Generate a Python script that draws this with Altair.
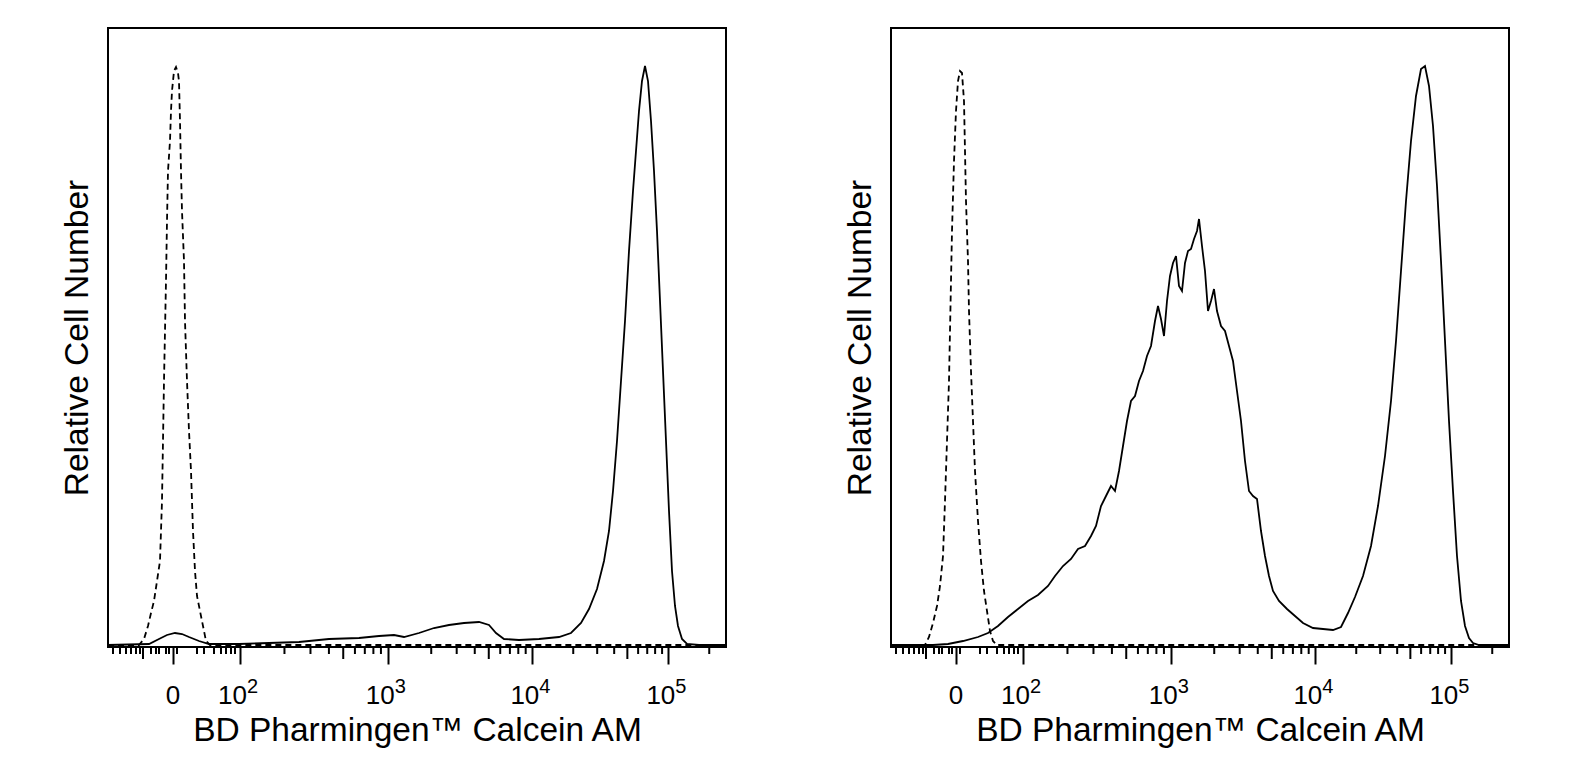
import math
import altair as alt
import pandas as pd

# x values are display channels of the biexponential axis (0..618 across the plot)
# y values are relative cell numbers (0..619 = full plot height)

left_dashed_x = [0, 31, 36, 40, 43, 46, 49, 52, 54, 55, 56, 57, 58, 59, 60, 62, 63, 64, 66, 68, 70, 71, 72, 73, 74, 76, 77, 79, 81, 83, 85, 87, 89, 92, 95, 98, 102, 618]
left_dashed_y = [2, 2, 8, 21, 34, 46, 66, 86, 146, 206, 266, 316, 366, 426, 476, 506, 536, 556, 576, 580, 574, 566, 526, 476, 436, 386, 326, 266, 216, 176, 116, 76, 51, 36, 21, 6, 2, 2]

left_solid_x = [0, 41, 51, 59, 67, 74, 81, 91, 101, 131, 161, 191, 221, 251, 271, 286, 296, 311, 326, 341, 356, 371, 381, 388, 396, 411, 431, 451, 463, 473, 481, 489, 496, 501, 505, 509, 513, 517, 521, 525, 528, 531, 534, 537, 540, 543, 546, 549, 552, 555, 558, 561, 564, 567, 570, 574, 579, 591, 618]
left_solid_y = [2, 3, 8, 12, 14, 13, 10, 6, 3, 3, 4, 5, 8, 9, 11, 12, 10, 14, 19, 22, 24, 25, 22, 14, 8, 7, 8, 10, 14, 24, 38, 58, 86, 116, 156, 206, 266, 326, 396, 456, 496, 536, 566, 581, 566, 526, 476, 416, 346, 276, 206, 136, 76, 41, 21, 8, 3, 2, 2]

right_dashed_x = [0, 34, 38, 42, 46, 49, 52, 54, 56, 58, 59, 60, 61, 63, 65, 67, 69, 71, 73, 74, 75, 77, 78, 80, 82, 84, 87, 90, 93, 96, 99, 102, 106, 617]
right_dashed_y = [2, 2, 10, 24, 41, 61, 91, 146, 206, 266, 316, 366, 416, 486, 536, 566, 576, 574, 546, 496, 446, 386, 336, 276, 226, 176, 126, 86, 56, 36, 16, 6, 2, 2]

right_solid_x = [0, 42, 57, 72, 87, 97, 107, 117, 127, 137, 147, 157, 164, 172, 180, 187, 194, 200, 205, 210, 215, 220, 224, 228, 232, 236, 240, 244, 248, 252, 256, 260, 264, 267, 270, 273, 276, 279, 282, 285, 288, 291, 294, 297, 300, 303, 306, 308, 311, 314, 317, 320, 323, 326, 330, 334, 338, 342, 346, 350, 354, 358, 362, 366, 370, 374, 378, 382, 388, 396, 404, 412, 422, 432, 442, 450, 457, 464, 472, 480, 487, 494, 500, 505, 510, 515, 520, 525, 530, 534, 538, 542, 546, 550, 554, 558, 562, 566, 570, 574, 578, 582, 588, 617]
right_solid_y = [2, 2, 3, 6, 10, 14, 21, 30, 38, 46, 52, 61, 71, 81, 88, 98, 101, 111, 121, 141, 151, 161, 156, 176, 201, 226, 246, 251, 266, 276, 291, 301, 326, 341, 328, 311, 346, 371, 384, 391, 361, 356, 384, 396, 398, 408, 416, 428, 401, 376, 336, 346, 358, 336, 321, 316, 301, 286, 256, 226, 186, 156, 151, 148, 116, 91, 71, 56, 46, 38, 31, 24, 19, 18, 17, 20, 34, 50, 71, 101, 141, 191, 246, 306, 376, 446, 506, 551, 578, 581, 561, 521, 461, 386, 306, 226, 156, 91, 46, 21, 9, 4, 2, 2]

# axis: display channel of each labelled value, label = base + superscript exponent
major_channels = [65, 132, 279.7, 424.3, 560.3]
major_base = ["0", "10", "10", "10", "10"]
major_exp = ["", "2", "3", "4", "5"]
# channels of the unlabelled ticks near zero (linear/negative part of the axis)
near_zero_ticks = [5, 12, 18, 23, 28, 32, 43, 48, 51, 58, 61, 69, 89, 96, 106, 113, 118, 123, 127]
near_zero_medium = [35]

W, H = 618, 619
FONT = "Liberation Sans"
TITLE_SIZE = 33.5

# minor/medium ticks of the log decades (2..9 x 10^k)
tick_rows = []
decade_starts = major_channels[1:]
decade_widths = [major_channels[2] - major_channels[1],
                 major_channels[3] - major_channels[2],
                 major_channels[4] - major_channels[3],
                 major_channels[4] - major_channels[3]]
for k, (start, width) in enumerate(zip(decade_starts, decade_widths)):
    for m in range(2, 10):
        if k == 3 and m > 2:
            break
        tick_rows.append({"x": start + math.log10(m) * width, "len": 12 if m == 5 else 7})
for t in near_zero_ticks:
    tick_rows.append({"x": t, "len": 7})
for t in near_zero_medium:
    tick_rows.append({"x": t, "len": 12})
ticks_df = pd.DataFrame(tick_rows)

labels_df = pd.DataFrame({"x": major_channels, "base": major_base, "exp": major_exp})

x_axis = alt.Axis(
    values=major_channels,
    labels=False,
    title="BD Pharmingen™ Calcein AM",
    titleFontSize=TITLE_SIZE,
    titleFont=FONT,
    titleFontWeight="normal",
    titleColor="black",
    titlePadding=49,
    tickSize=17,
    tickWidth=2,
    tickColor="black",
    domain=False,
    grid=False,
)
y_axis = alt.Axis(
    title="Relative Cell Number",
    titleFontSize=TITLE_SIZE,
    titleFont=FONT,
    titleFontWeight="normal",
    titleColor="black",
    titlePadding=14,
    labels=False,
    ticks=False,
    domain=False,
    grid=False,
)
xs = alt.Scale(domain=[0, W], nice=False, zero=False)
ys = alt.Scale(domain=[0, H], nice=False, zero=True)


def build(sx, sy, dx, dy):
    solid = pd.DataFrame({"x": sx, "y": sy})
    dashed = pd.DataFrame({"x": dx, "y": dy})
    xenc = alt.X("x:Q", scale=xs, axis=x_axis)
    l_dash = alt.Chart(dashed).mark_line(color="black", strokeWidth=1.8, strokeDash=[6, 4]).encode(
        x=xenc,
        y=alt.Y("y:Q", scale=ys, axis=y_axis),
    )
    l_solid = alt.Chart(solid).mark_line(color="black", strokeWidth=1.8).encode(
        x=xenc,
        y=alt.Y("y:Q", scale=ys, axis=y_axis),
    )
    short = alt.Chart(ticks_df[ticks_df["len"] == 7]).mark_rule(color="black", strokeWidth=2).encode(
        x=xenc,
        y=alt.value(H),
        y2=alt.value(H + 7),
    )
    medium = alt.Chart(ticks_df[ticks_df["len"] == 12]).mark_rule(color="black", strokeWidth=2).encode(
        x=xenc,
        y=alt.value(H),
        y2=alt.value(H + 12),
    )
    zero_lbl = alt.Chart(labels_df[labels_df["exp"] == ""]).mark_text(
        font=FONT, fontSize=26, color="black", align="center", baseline="alphabetic"
    ).encode(x=xenc, y=alt.value(H + 57), text="base:N")
    base_lbl = alt.Chart(labels_df[labels_df["exp"] != ""]).mark_text(
        font=FONT, fontSize=26, color="black", align="right", baseline="alphabetic", dx=7
    ).encode(x=xenc, y=alt.value(H + 57), text="base:N")
    exp_lbl = alt.Chart(labels_df[labels_df["exp"] != ""]).mark_text(
        font=FONT, fontSize=20, color="black", align="left", baseline="alphabetic", dx=7
    ).encode(x=xenc, y=alt.value(H + 46), text="exp:N")
    return alt.layer(l_solid, l_dash, short, medium, zero_lbl, base_lbl, exp_lbl).properties(width=W, height=H)


left = build(left_solid_x, left_solid_y, left_dashed_x, left_dashed_y)
right = build(right_solid_x, right_solid_y, right_dashed_x, right_dashed_y)

chart = alt.hconcat(left, right, spacing=111).properties(
    padding={"left": 59, "top": 27, "right": 5, "bottom": 5},
    background="white",
).configure_view(
    stroke="black", strokeWidth=2
)

chart.save("out.html", embed_options={"renderer": "svg", "actions": False})
